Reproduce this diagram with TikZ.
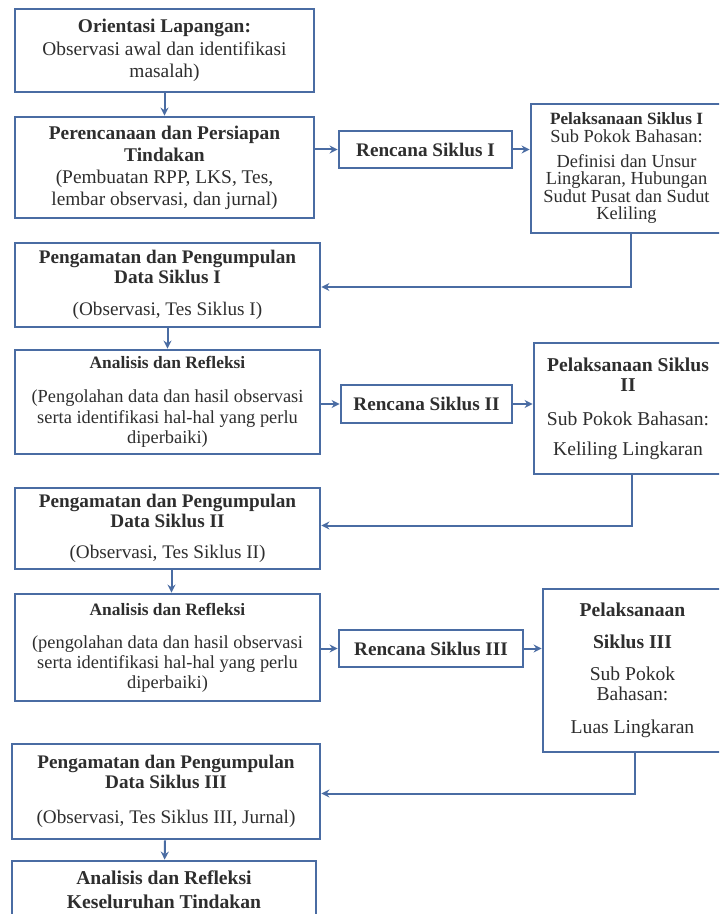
\documentclass[tikz,border=0pt]{standalone}
\usepackage{fontspec}
\setmainfont{Liberation Serif}
\usetikzlibrary{arrows.meta}
\definecolor{FlowBlue}{HTML}{4A6CA3}
\definecolor{FlowText}{HTML}{2E2E2E}

\begin{document}
\begin{tikzpicture}[>={Stealth[length=4pt,width=4pt]},x=0.5pt,y=-0.5pt,
  font=\fontsize{9.6}{10}\selectfont,text=FlowText,
  stage/.style={draw=FlowBlue,line width=1.4pt,fill=white,align=center,inner sep=0pt},
  link/.style={->,draw=FlowBlue,line width=1pt}]
  \clip (0,0) rectangle (719,914);
  \fill[white] (0,0) rectangle (719,914);
  % left column
  \node[stage,minimum width=149.5pt,minimum height=41.5pt,font=\fontsize{9.7}{11.2}\selectfont] (orient) at (164.5,50.5)
    {\textbf{Orientasi Lapangan:}\\Observasi awal dan identifikasi\\masalah)};
  \node[stage,minimum width=149.5pt,minimum height=50.5pt,font=\fontsize{9.7}{11}\selectfont] (plan) at (164.5,167.5)
    {\textbf{Perencanaan dan Persiapan}\\\textbf{Tindakan}\\(Pembuatan RPP, LKS, Tes,\\lembar observasi, dan jurnal)};
  \node[stage,minimum width=152.5pt,minimum height=42pt] (amat1) at (167.5,285)
    {\textbf{Pengamatan dan Pengumpulan}\\\textbf{Data Siklus I}\\[6pt](Observasi, Tes Siklus I)};
  \node[stage,minimum width=152.5pt,minimum height=52pt,font=\fontsize{9.2}{10.2}\selectfont] (anal1) at (167.5,402)
    {{\fontsize{8.7}{10}\selectfont\textbf{Analisis dan Refleksi}}\\[7pt](Pengolahan data dan hasil observasi\\serta identifikasi hal-hal yang perlu\\diperbaiki)};
  \node[stage,minimum width=152.5pt,minimum height=40.5pt] (amat2) at (167.5,528.5)
    {\textbf{Pengamatan dan Pengumpulan}\\\textbf{Data Siklus II}\\[5.5pt](Observasi, Tes Siklus II)};
  \node[stage,minimum width=152.5pt,minimum height=53.5pt,font=\fontsize{9.2}{10}\selectfont] (anal2) at (167.5,647.5)
    {{\fontsize{8.7}{10}\selectfont\textbf{Analisis dan Refleksi}}\\[6.5pt](pengolahan data dan hasil observasi\\serta identifikasi hal-hal yang perlu\\diperbaiki)};
  \node[stage,minimum width=154pt,minimum height=47.5pt] (amat3) at (166,791.5)
    {\textbf{Pengamatan dan Pengumpulan}\\\textbf{Data Siklus III}\\[7.5pt](Observasi, Tes Siklus III, Jurnal)};
  \node[stage,minimum width=152pt,minimum height=29pt,font=\fontsize{9.8}{12}\selectfont] (akhir) at (164,890)
    {\textbf{Analisis dan Refleksi}\\\textbf{Keseluruhan Tindakan}};
  % cycle plans
  \node[stage,minimum width=86.5pt,minimum height=18.5pt] (ren1) at (425.5,149.5) {\textbf{Rencana Siklus I}};
  \node[stage,minimum width=85.5pt,minimum height=19pt] (ren2) at (426.5,404) {\textbf{Rencana Siklus II}};
  \node[stage,minimum width=92pt,minimum height=18.5pt] (ren3) at (431,648.5) {\textbf{Rencana Siklus III}};
  % cycle actions
  \node[stage,minimum width=95.5pt,minimum height=64.5pt,font=\fontsize{9.2}{8.8}\selectfont] (pel1) at (626.5,168.5)
    {{\fontsize{8.6}{9}\selectfont\textbf{Pelaksanaan Siklus I}}\\Sub Pokok Bahasan:\\[3.5pt]Definisi dan Unsur\\Lingkaran, Hubungan\\Sudut Pusat dan Sudut\\Keliling};
  \node[stage,minimum width=94pt,minimum height=65.5pt,font=\fontsize{9.8}{10}\selectfont] (pel2) at (628,408.5)
    {\textbf{Pelaksanaan Siklus}\\\textbf{II}\\[7pt]Sub Pokok Bahasan:\\[5pt]Keliling Lingkaran};
  \node[stage,minimum width=89.5pt,minimum height=81.5pt,font=\fontsize{9.8}{10}\selectfont] (pel3) at (632.5,670.5)
    {\textbf{Pelaksanaan}\\[6pt]\textbf{Siklus III}\\[6pt]Sub Pokok\\Bahasan:\\[6.5pt]Luas Lingkaran};
  % connectors
  \draw[link] (orient) -- (plan);
  \draw[link] (plan.east |- ren1.west) -- (ren1.west);
  \draw[link] (ren1.east) -- (ren1.east -| pel1.west);
  \draw[link] ([xshift=2pt]pel1.south) |- ([yshift=-1pt]amat1.east);
  \draw[link] (amat1) -- (anal1);
  \draw[link] (anal1.east |- ren2.west) -- (ren2.west);
  \draw[link] (ren2.east) -- (ren2.east -| pel2.west);
  \draw[link] ([xshift=2pt]pel2.south) |- ([yshift=1.5pt]amat2.east);
  \draw[link] ([xshift=2pt]amat2.south) -- ([xshift=2pt]amat2.south |- anal2.north);
  \draw[link] (anal2.east |- ren3.west) -- (ren3.west);
  \draw[link] (ren3.east) -- (ren3.east -| pel3.west);
  \draw[link] ([xshift=1pt]pel3.south) |- ([yshift=-1pt]amat3.east);
  \draw[link] (amat3) -- (akhir);
\end{tikzpicture}
\end{document}
